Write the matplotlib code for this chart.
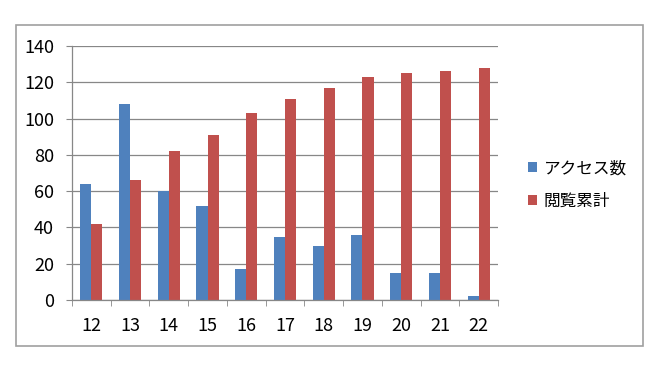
import numpy as np
import matplotlib
matplotlib.use("Agg")
import matplotlib.pyplot as plt
from matplotlib.patches import Rectangle

# data
days = ["12", "13", "14", "15", "16", "17", "18", "19", "20", "21", "22"]
access = [64, 108, 60, 52, 17, 35, 30, 36, 15, 15, 2]
total = [42, 66, 82, 91, 103, 111, 117, 123, 125, 126, 128]
series_names = ["アクセス数", "閲覧累計"]
yticks = [0, 20, 40, 60, 80, 100, 120, 140]

BLUE = "#4F81BD"
RED = "#C0504D"
GRID = "#878787"

plt.rcParams['font.family'] = ['Liberation Sans Narrow', 'Noto Sans CJK JP', 'DejaVu Sans']

fig = plt.figure(figsize=(6.64, 3.76), dpi=100)
W, H = 664, 376

# outer chart border
fig.patches.append(Rectangle((16 / W, 1 - 346 / H), (643 - 16) / W, (346 - 25) / H,
                             transform=fig.transFigure, fill=False,
                             edgecolor="#A0A0A0", linewidth=1.2))

ax = fig.add_axes([72 / W, 1 - 300 / H, (498 - 72) / W, (300 - 46) / H])

x = np.arange(len(days))
bw = 1 / 3.5
ax.bar(x - bw / 2, access, bw, color=BLUE, label=series_names[0], zorder=3)
ax.bar(x + bw / 2, total, bw, color=RED, label=series_names[1], zorder=3)

ax.set_xlim(-0.5, len(days) - 0.5)
ax.set_ylim(0, 140)
ax.set_yticks(yticks)
ax.yaxis.grid(True, color=GRID, linewidth=0.9, zorder=0)

for s in ["top", "right"]:
    ax.spines[s].set_visible(False)
for s in ["left", "bottom"]:
    ax.spines[s].set_color(GRID)
    ax.spines[s].set_linewidth(0.9)
    ax.spines[s].set_zorder(4)

ax.set_xticks(x)
ax.set_xticklabels(days)
ax.set_xticks(np.arange(-0.5, len(days)), minor=True)
ax.tick_params(axis="x", which="major", length=0, pad=12, labelsize=13)
ax.tick_params(axis="x", which="minor", length=4, color=GRID, direction="out")
ax.tick_params(axis="y", length=4, color=GRID, pad=9, labelsize=13)

ax.legend(loc="center left", bbox_to_anchor=(513 / W, 1 - 185 / H),
          bbox_transform=fig.transFigure, frameon=False,
          prop={'family': ['Noto Sans CJK JP', 'DejaVu Sans'], 'size': 12},
          handlelength=0.55, handleheight=0.55, handletextpad=0.4, labelspacing=0.95)

fig.savefig("out.png", dpi=100)
